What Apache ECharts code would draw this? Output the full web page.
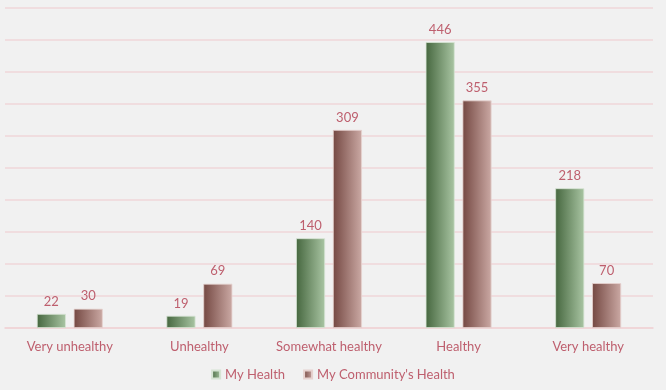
<!DOCTYPE html>
<html><head><meta charset="utf-8">
<script src="https://cdn.jsdelivr.net/npm/echarts@6/dist/echarts.min.js"></script>
<style>html,body{margin:0;padding:0;background:#f1f1f1}#c{width:666px;height:390px}</style>
</head><body><div id="c"></div>
<script>
const categories = ["Very unhealthy", "Unhealthy", "Somewhat healthy", "Healthy", "Very healthy"];
const myHealth = [22, 19, 140, 446, 218];
const communityHealth = [30, 69, 309, 355, 70];
const seriesNames = ["My Health", "My Community's Health"];

const textColor = "#be5f6e";
const font = "Lato";
function grad(a, b) {
  return new echarts.graphic.LinearGradient(0, 0, 1, 0, [
    { offset: 0, color: a }, { offset: 1, color: b }
  ]);
}
const chart = echarts.init(document.getElementById('c'), null, { renderer: 'canvas' });
chart.setOption({
  backgroundColor: '#f1f1f1',
  animation: false,
  grid: { left: 5, right: 13, top: 7.5, bottom: 62, containLabel: false },
  legend: {
    bottom: 4, left: 'center', itemWidth: 8, itemHeight: 8, itemGap: 18,
    textStyle: { color: textColor, fontFamily: font, fontSize: 13 },
    data: seriesNames.map((n, i) => ({ name: n, icon: 'rect' }))
  },
  xAxis: {
    type: 'category', data: categories,
    axisLine: { lineStyle: { color: '#efd3d6', width: 1.5 } },
    axisTick: { show: false },
    axisLabel: { interval: 0, color: textColor, fontFamily: font, fontSize: 13, margin: 12 }
  },
  yAxis: {
    type: 'value', min: 0, max: 500, interval: 50,
    axisLabel: { show: false }, axisLine: { show: false }, axisTick: { show: false },
    splitLine: { lineStyle: { color: '#efd6d9', width: 1.5 } }
  },
  series: [
    {
      name: seriesNames[0], type: 'bar', data: myHealth,
      barWidth: '22.4%', barGap: '27%',
      itemStyle: { color: grad('#46673f', '#a9c5a3'), borderColor: '#d6e3d3', borderWidth: 0.8 },
      label: { show: true, position: 'top', distance: 6, color: textColor, fontFamily: font, fontSize: 13 }
    },
    {
      name: seriesNames[1], type: 'bar', data: communityHealth,
      barWidth: '22.4%', barGap: '27%',
      itemStyle: { color: grad('#744842', '#cba9a4'), borderColor: '#e6d2cf', borderWidth: 0.8 },
      label: { show: true, position: 'top', distance: 6, color: textColor, fontFamily: font, fontSize: 13 }
    }
  ]
});
</script></body></html>
